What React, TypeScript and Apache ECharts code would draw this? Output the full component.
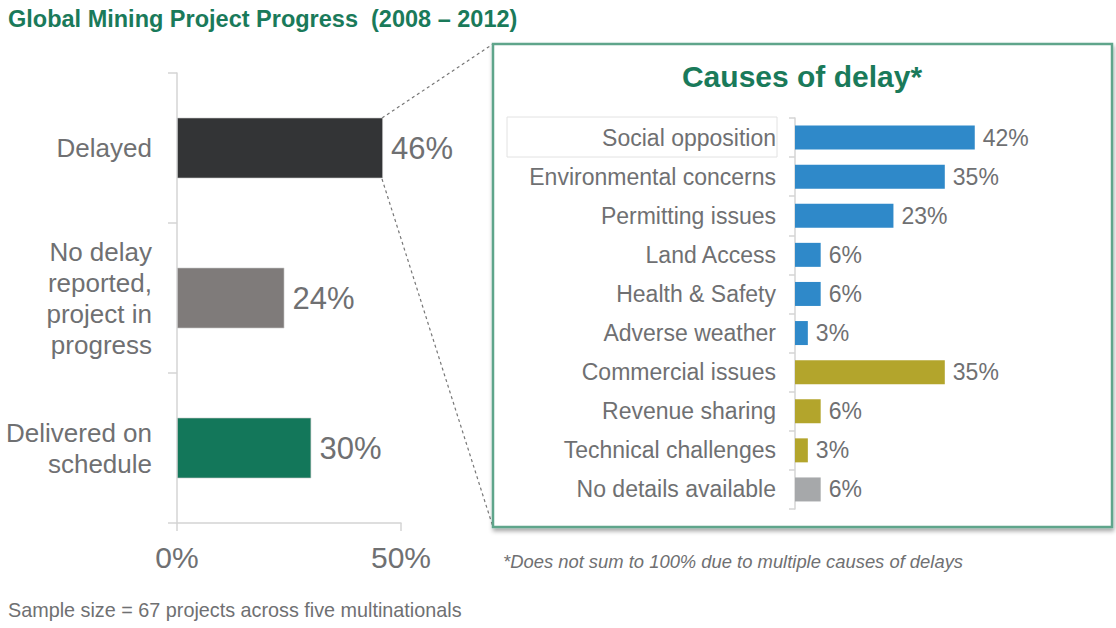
import React, { useEffect, useRef } from "react";
import * as echarts from "echarts";

const mainCategories = ["Delayed", "No delay\nreported,\nproject in\nprogress", "Delivered on\nschedule"];
const mainValues = [46, 24, 30];
const mainTicks = [0, 50];

const causeCategories = [
  "Social opposition",
  "Environmental concerns",
  "Permitting issues",
  "Land Access",
  "Health & Safety",
  "Adverse weather",
  "Commercial issues",
  "Revenue sharing",
  "Technical challenges",
  "No details available",
];
const causeValues = [42, 35, 23, 6, 6, 3, 35, 6, 3, 6];
const causeGroups = ["env", "env", "env", "env", "env", "env", "com", "com", "com", "none"];

const mainColors = ["#333436", "#7f7b7a", "#13775a"];
const groupColors: Record<string, string> = { env: "#2f89c9", com: "#b3a52c", none: "#a6a8aa" };

const FONT = "'Liberation Sans', Arial, sans-serif";
const GREY = "#6f7072";
const GREEN = "#1a7a5a";

export default function App() {
  const ref = useRef<HTMLDivElement>(null);
  useEffect(() => {
    document.body.style.margin = "0";
    const chart = echarts.init(ref.current!, null, { renderer: "svg" });
    chart.setOption({
      animation: false,
      textStyle: { fontFamily: FONT },
      grid: [
        { left: 177, top: 73, width: 224, height: 450 },
        { left: 795, top: 118, width: 214, height: 391 },
      ],
      xAxis: [
        {
          gridIndex: 0,
          type: "value",
          min: mainTicks[0],
          max: mainTicks[1],
          interval: mainTicks[1] - mainTicks[0],
          splitLine: { show: false },
          axisLine: { show: true, lineStyle: { color: "#d4d4d4", width: 1.5 } },
          axisTick: { show: true, length: 8, lineStyle: { color: "#d4d4d4", width: 1.5 } },
          axisLabel: { formatter: "{value}%", fontSize: 30, color: GREY, margin: 19, fontFamily: FONT },
        },
        {
          gridIndex: 1,
          type: "value",
          min: 0,
          max: 50,
          show: false,
        },
      ],
      yAxis: [
        {
          gridIndex: 0,
          type: "category",
          inverse: true,
          data: mainCategories,
          axisLine: { show: true, lineStyle: { color: "#d4d4d4", width: 1.5 } },
          axisTick: { show: true, length: 9, lineStyle: { color: "#d4d4d4", width: 1.5 } },
          axisLabel: { fontSize: 26, color: GREY, margin: 25, lineHeight: 31, align: "right", fontFamily: FONT },
        },
        {
          gridIndex: 1,
          type: "category",
          inverse: true,
          data: causeCategories,
          axisLine: { show: true, lineStyle: { color: "#d4d4d4", width: 1.5 } },
          axisTick: { show: true, length: 6, lineStyle: { color: "#d4d4d4", width: 1.5 } },
          axisLabel: { fontSize: 23, color: GREY, margin: 19, fontFamily: FONT },
        },
      ],
      series: [
        {
          type: "bar",
          xAxisIndex: 0,
          yAxisIndex: 0,
          data: mainValues,
          barWidth: 61,
          itemStyle: { color: (p: any) => mainColors[p.dataIndex], borderColor: "rgba(200,200,200,0.6)", borderWidth: 1 },
          label: { show: true, position: "right", distance: 8, formatter: "{c}%", fontSize: 31, color: GREY, fontFamily: FONT },
        },
        {
          type: "bar",
          xAxisIndex: 1,
          yAxisIndex: 1,
          data: causeValues,
          barWidth: 24,
          itemStyle: { color: (p: any) => groupColors[causeGroups[p.dataIndex]] },
          label: { show: true, position: "right", distance: 8, formatter: "{c}%", fontSize: 23, color: GREY, fontFamily: FONT },
        },
      ],
      graphic: [
        {
          type: "line",
          z: -20,
          shape: { x1: 382, y1: 118, x2: 493, y2: 44 },
          style: { stroke: "#777", lineWidth: 1.2, lineDash: [3, 3] },
        },
        {
          type: "line",
          z: -20,
          shape: { x1: 382, y1: 179, x2: 493, y2: 527 },
          style: { stroke: "#777", lineWidth: 1.2, lineDash: [3, 3] },
        },
        {
          type: "rect",
          z: -10,
          shape: { x: 493, y: 44, width: 619, height: 483 },
          style: {
            fill: "#fff",
            stroke: "#5fa58b",
            lineWidth: 2.5,
            shadowBlur: 4,
            shadowOffsetX: 1,
            shadowOffsetY: 3,
            shadowColor: "rgba(0,0,0,0.35)",
          },
        },
        {
          type: "rect",
          z: -5,
          shape: { x: 507, y: 117, width: 270, height: 40 },
          style: { fill: "none", stroke: "#e2e2e2", lineWidth: 1 },
        },
        {
          type: "text",
          x: 802,
          y: 76,
          style: {
            text: "Causes of delay*",
            font: `bold 30px ${FONT}`,
            fill: GREEN,
            align: "center",
            verticalAlign: "middle",
          },
        },
        {
          type: "text",
          x: 8,
          y: 19,
          style: {
            text: "Global Mining Project Progress  (2008 – 2012)",
            font: `bold 23.5px ${FONT}`,
            fill: GREEN,
            verticalAlign: "middle",
          },
        },
        {
          type: "text",
          x: 503,
          y: 561,
          style: {
            text: "*Does not sum to 100% due to multiple causes of delays",
            font: `italic 18.4px ${FONT}`,
            fill: GREY,
            verticalAlign: "middle",
          },
        },
        {
          type: "text",
          x: 8,
          y: 610,
          style: {
            text: "Sample size = 67 projects across five multinationals",
            font: `19.8px ${FONT}`,
            fill: GREY,
            verticalAlign: "middle",
          },
        },
      ],
    });
    return () => chart.dispose();
  }, []);
  return <div ref={ref} style={{ width: 1116, height: 628 }} />;
}
